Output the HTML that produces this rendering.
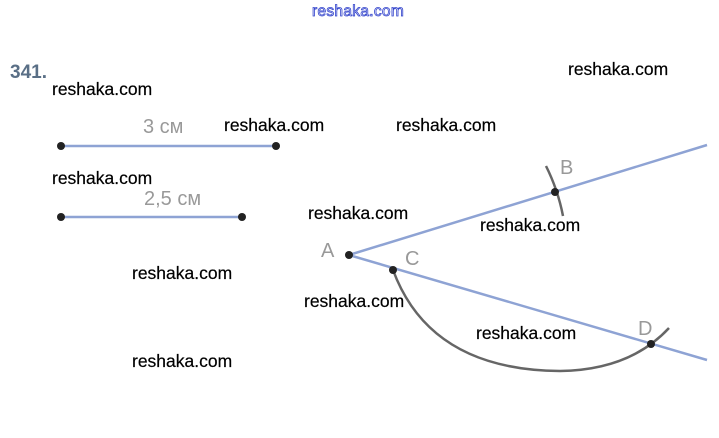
<!DOCTYPE html>
<html><head><style>
body{margin:0;width:719px;height:438px;background:#fff;position:relative;overflow:hidden;font-family:"Liberation Sans",sans-serif}
.w{position:absolute;font-size:17.5px;color:#000;line-height:1;-webkit-text-stroke:0.2px #000}
</style></head><body>
<div style="position:absolute;left:312px;top:3px;font-size:15.5px;color:#fff;-webkit-text-stroke:0.8px #3344cc;letter-spacing:0.3px">reshaka.com</div>
<div style="position:absolute;left:10px;top:62px;font-size:19px;font-weight:bold;color:#5a6f86">341.</div>
<div class="w" style="left:52px;top:81px">reshaka.com</div>
<div class="w" style="left:568px;top:61px">reshaka.com</div>
<div class="w" style="left:224px;top:117px">reshaka.com</div>
<div class="w" style="left:396px;top:117px">reshaka.com</div>
<div class="w" style="left:52px;top:170px">reshaka.com</div>
<div class="w" style="left:308px;top:205px">reshaka.com</div>
<div class="w" style="left:480px;top:217px">reshaka.com</div>
<div class="w" style="left:132px;top:265px">reshaka.com</div>
<div class="w" style="left:304px;top:293px">reshaka.com</div>
<div class="w" style="left:476px;top:325px">reshaka.com</div>
<div class="w" style="left:132px;top:353px">reshaka.com</div>
<svg width="719" height="438" style="position:absolute;left:0;top:0">
<g font-family="Liberation Sans,sans-serif" fill="#999" font-size="20">
<text x="143" y="133">3 см</text>
<text x="144" y="205">2,5 см</text>
<text x="321" y="257">A</text>
<text x="560" y="174">B</text>
<text x="405" y="265">C</text>
<text x="638" y="335">D</text>
</g>
<g stroke="#8ea3d4" stroke-width="2.5">
<line x1="61" y1="146" x2="276" y2="146"/>
<line x1="61" y1="217" x2="242" y2="217"/>
<line x1="349" y1="255" x2="707" y2="145"/>
<line x1="349" y1="255" x2="707" y2="360"/>
</g>
<g stroke="#666" stroke-width="2.5" fill="none">
<path d="M393 270 Q430 370 560 371 Q630 370 669 328"/>
<path d="M546 166 Q558 190 563 216"/>
</g>
<g fill="#222">
<circle cx="61" cy="146" r="4"/><circle cx="276" cy="146" r="4"/>
<circle cx="61" cy="217" r="4"/><circle cx="242" cy="217" r="4"/>
<circle cx="349" cy="255" r="4"/><circle cx="555" cy="192" r="4"/>
<circle cx="393" cy="270" r="4"/><circle cx="651" cy="344" r="4"/>
</g>
</svg>
</body></html>
